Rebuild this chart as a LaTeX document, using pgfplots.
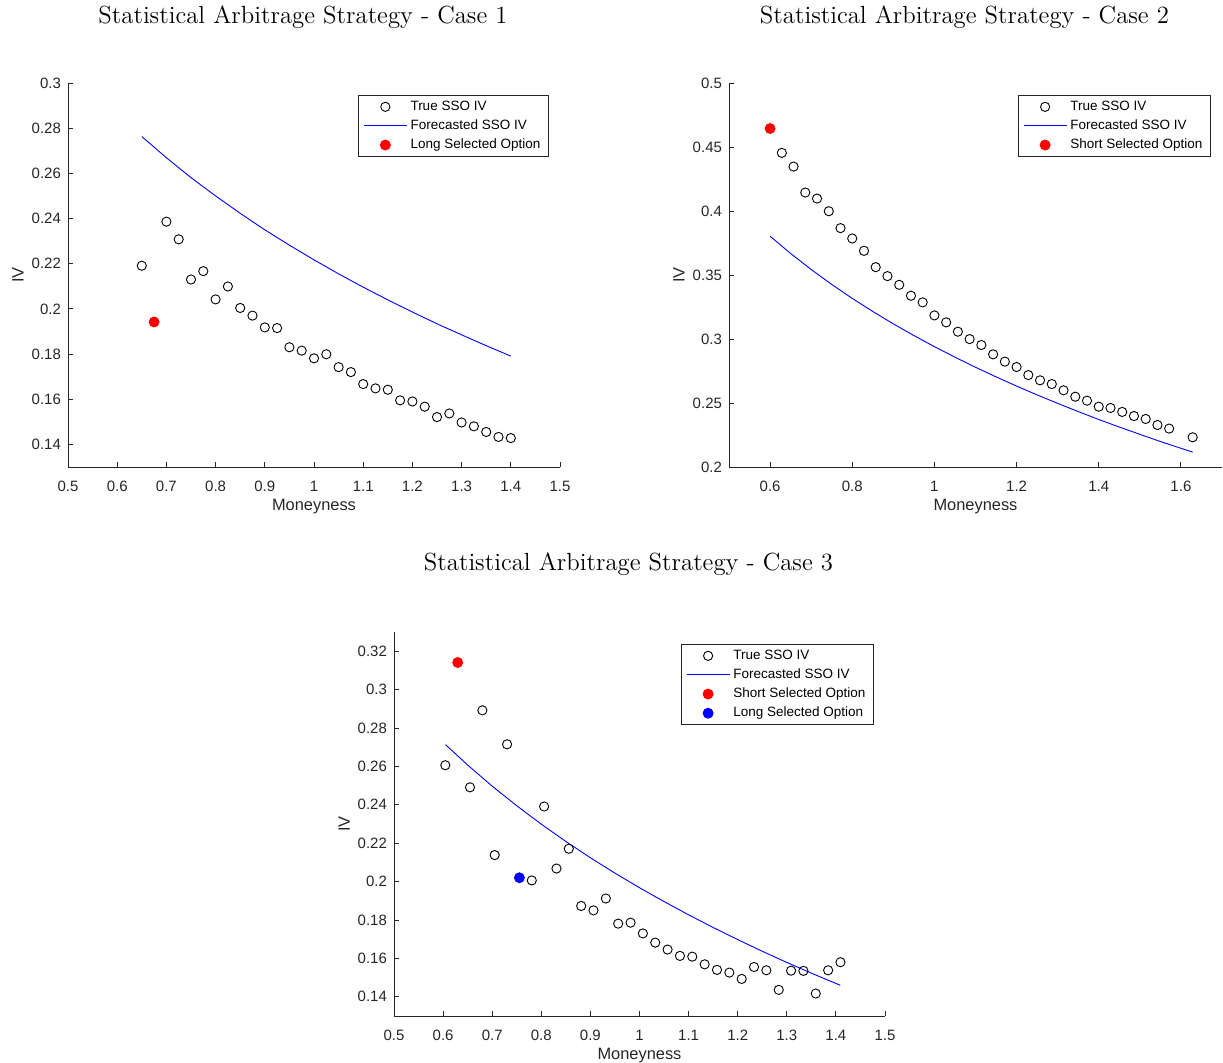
\documentclass[border=0pt]{standalone}
\usepackage{fontspec}
\usepackage{pgfplots}
\pgfplotsset{compat=1.18}
\newfontfamily\armsans{Liberation Sans}
\definecolor{axgray}{rgb}{0.15,0.15,0.15}
\pgfplotsset{
  mystyle/.style={
    scale only axis, height=192pt,
    axis x line*=bottom, axis y line*=left,
    axis line style={axgray, line width=0.45pt, -},
    tick align=inside, major tick length=2.5pt,
    tick style={axgray, line width=0.45pt},
    ticklabel style={font=\armsans\fontsize{7.5}{9}\selectfont, text=axgray},
    xticklabel style={yshift=-3.5pt},
    /pgf/number format/assume math mode=true,
    label style={font=\armsans\fontsize{8.2}{9.8}\selectfont, text=axgray},
    xlabel=Moneyness, ylabel=IV,
    xlabel style={at={(axis description cs:0.5,-0.102)}, anchor=center},
    ylabel style={at={(axis description cs:-0.1016,0.5)}, anchor=center},
    title style={font=\fontsize{12.4}{14}\selectfont, at={(axis description cs:0.5,1)}, anchor=center, yshift=28pt, xshift=-5.5pt},
    legend style={at={(axis description cs:1,1)}, anchor=north east, xshift=-5.5pt, yshift=-6pt,
      draw=axgray, line width=0.45pt, fill=white,
      font=\armsans\fontsize{6.75}{8}\selectfont, text=black,
      inner xsep=2.5pt, inner ysep=1pt, row sep=0pt,
      nodes={inner sep=1.6pt, text depth=0.15em}},
    legend cell align=left,
    legend image code/.code={\draw[mark repeat=2,mark phase=2,##1] plot coordinates {(0pt,0pt)(10.75pt,0pt)(21.5pt,0pt)};},
  },
  circ/.style={only marks, mark=o, mark size=2.3pt, black, line width=0.45pt},
  fcst/.style={blue, line width=0.45pt, no marks},
  sel/.style={only marks, mark=*, mark size=2.5pt, #1},
}
\begin{document}
\begin{tikzpicture}
\useasboundingbox (0,0) rectangle (611.5pt,531.5pt);
% ---------------- Case 1
\begin{axis}[mystyle, width=246pt, at={(34pt,298pt)}, anchor=south west,
  xmin=0.5, xmax=1.5, ymin=0.13, ymax=0.3,
  xtick={0.5,0.6,0.7,0.8,0.9,1,1.1,1.2,1.3,1.4,1.5},
  ytick={0.14,0.16,0.18,0.2,0.22,0.24,0.26,0.28,0.3},
  title={Statistical Arbitrage Strategy - Case 1}, title style={yshift=-1pt}]
\addplot[circ] coordinates {
(0.650,0.2191) (0.700,0.2386) (0.725,0.2308) (0.750,0.2130) (0.775,0.2167)
(0.800,0.2042) (0.825,0.2099) (0.850,0.2004) (0.875,0.1970) (0.900,0.1918)
(0.925,0.1915) (0.950,0.1830) (0.975,0.1815) (1.000,0.1781) (1.025,0.1799)
(1.050,0.1742) (1.075,0.1720) (1.100,0.1667) (1.125,0.1648) (1.150,0.1642)
(1.175,0.1595) (1.200,0.1590) (1.225,0.1567) (1.250,0.1521) (1.275,0.1537)
(1.300,0.1497) (1.325,0.1480) (1.350,0.1455) (1.375,0.1433) (1.400,0.1428)};
\addplot[fcst] coordinates {
(0.65,0.2763) (0.70,0.2669) (0.75,0.2581) (0.80,0.2500) (0.85,0.2423)
(0.90,0.2350) (0.95,0.2282) (1.00,0.2217) (1.05,0.2155) (1.10,0.2096)
(1.15,0.2040) (1.20,0.1986) (1.25,0.1934) (1.30,0.1885) (1.35,0.1837) (1.40,0.1791)};
\addplot[sel=red] coordinates {(0.675,0.1942)};
\legend{True SSO IV, Forecasted SSO IV, Long Selected Option}
\end{axis}
% ---------------- Case 2
\begin{axis}[mystyle, width=246.5pt, at={(364.5pt,298pt)}, anchor=south west,
  xmin=0.5, xmax=1.7, ymin=0.2, ymax=0.5,
  xtick={0.6,0.8,1,1.2,1.4,1.6},
  ytick={0.2,0.25,0.3,0.35,0.4,0.45,0.5},
  title={Statistical Arbitrage Strategy - Case 2}, title style={yshift=-1pt}]
\addplot[circ] coordinates {
(0.6286,0.4454) (0.6571,0.4347) (0.6857,0.4144) (0.7143,0.4097) (0.7429,0.3998)
(0.7714,0.3866) (0.8000,0.3785) (0.8286,0.3689) (0.8571,0.3561) (0.8857,0.3491)
(0.9143,0.3423) (0.9429,0.3338) (0.9714,0.3286) (1.0000,0.3184) (1.0286,0.3130)
(1.0571,0.3057) (1.0857,0.2999) (1.1143,0.2953) (1.1429,0.2880) (1.1714,0.2823)
(1.2000,0.2781) (1.2286,0.2718) (1.2571,0.2677) (1.2857,0.2648) (1.3143,0.2599)
(1.3429,0.2549) (1.3714,0.2518) (1.4000,0.2471) (1.4286,0.2461) (1.4571,0.2430)
(1.4857,0.2398) (1.5143,0.2375) (1.5429,0.2328) (1.5714,0.2300) (1.6286,0.2232)};
\addplot[fcst] coordinates {
(0.60,0.3803) (0.65,0.3668) (0.70,0.3543) (0.75,0.3426) (0.80,0.3317)
(0.85,0.3215) (0.90,0.3118) (0.95,0.3027) (1.00,0.2940) (1.05,0.2858)
(1.10,0.2779) (1.15,0.2704) (1.20,0.2632) (1.25,0.2563) (1.30,0.2497)
(1.35,0.2433) (1.40,0.2371) (1.45,0.2312) (1.50,0.2255) (1.55,0.2199)
(1.60,0.2146) (1.6286,0.2116)};
\addplot[sel=red] coordinates {(0.600,0.4644)};
\legend{True SSO IV, Forecasted SSO IV, Short Selected Option}
\end{axis}
% ---------------- Case 3
\begin{axis}[mystyle, width=245.5pt, at={(197pt,23.5pt)}, anchor=south west,
  xmin=0.5, xmax=1.5, ymin=0.13, ymax=0.33,
  xtick={0.5,0.6,0.7,0.8,0.9,1,1.1,1.2,1.3,1.4,1.5},
  ytick={0.14,0.16,0.18,0.2,0.22,0.24,0.26,0.28,0.3,0.32},
  title={Statistical Arbitrage Strategy - Case 3}]
\addplot[circ] coordinates {
(0.6045,0.2606) (0.6548,0.2491) (0.6800,0.2892) (0.7051,0.2138) (0.7303,0.2715)
(0.7806,0.2006) (0.8057,0.2391) (0.8309,0.2068) (0.8560,0.2171) (0.8812,0.1873)
(0.9063,0.1850) (0.9315,0.1912) (0.9566,0.1781) (0.9818,0.1786) (1.0069,0.1730)
(1.0321,0.1682) (1.0572,0.1646) (1.0824,0.1613) (1.1075,0.1609) (1.1327,0.1569)
(1.1578,0.1540) (1.1830,0.1526) (1.2081,0.1493) (1.2333,0.1555) (1.2584,0.1538)
(1.2836,0.1436) (1.3087,0.1536) (1.3339,0.1535) (1.3590,0.1417) (1.3842,0.1538)
(1.4093,0.1580)};
\addplot[fcst] coordinates {
(0.605,0.2713) (0.65,0.2607) (0.70,0.2497) (0.75,0.2395) (0.80,0.2299)
(0.85,0.2209) (0.90,0.2124) (0.95,0.2044) (1.00,0.1968) (1.05,0.1896)
(1.10,0.1827) (1.15,0.1761) (1.20,0.1698) (1.25,0.1637) (1.30,0.1579)
(1.35,0.1523) (1.409,0.1460)};
\addplot[sel=red] coordinates {(0.6297,0.3141)};
\addplot[sel=blue] coordinates {(0.7554,0.2020)};
\legend{True SSO IV, Forecasted SSO IV, Short Selected Option, Long Selected Option}
\end{axis}
\end{tikzpicture}
\end{document}
